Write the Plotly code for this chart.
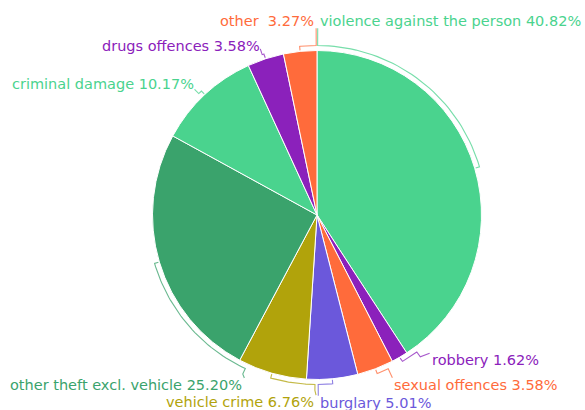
import math
import numpy as np
import plotly.graph_objects as go

# ---------------- data ----------------
categories = ["violence against the person", "robbery", "sexual offences", "burglary",
              "vehicle crime", "other theft excl. vehicle", "criminal damage",
              "drugs offences", "other"]
shares = [40.82, 1.62, 3.58, 5.01, 6.76, 25.20, 10.17, 3.58, 3.27]
label_names = ["violence against the person", "robbery", "sexual offences", "burglary",
               "vehicle crime", "other theft excl. vehicle", "criminal damage",
               "drugs offences", "other\u00a0"]

# ---------------- style / layout ----------------
colors = ["#4ad38e", "#8b21bb", "#ff6b3b", "#6b58db", "#b1a30b",
          "#3aa36c", "#4ad38e", "#8b21bb", "#ff6b3b"]
W, H = 585, 410
CX, CY, R = 317.0, 215.0, 164.5
FONT = "DejaVu Sans"
FSIZE = 14.5
# label text anchor offsets (px) from the slice mid-point on the rim, and alignment
label_offsets = [(-157, -147, "left"), (30, 3, "left"), (17, 16, "left"),
                 (-14, 24, "left"), (44, 29, "right"), (85, 123, "right"),
                 (-9, -11, "right"), (-4, -13, "right"), (16, -30, "right")]


def pt(angle_deg, rad):
    a = math.radians(angle_deg)
    return CX + rad * math.sin(a), CY - rad * math.cos(a)


total = sum(shares)
fig = go.Figure()

fig.add_trace(go.Pie(
    labels=categories, values=shares, sort=False, direction="clockwise", rotation=0,
    marker=dict(colors=colors, line=dict(color="white", width=1)),
    textinfo="none", hoverinfo="label+percent",
    domain=dict(x=[(CX - R) / W, (CX + R) / W], y=[(H - CY - R) / H, (H - CY + R) / H]),
    showlegend=False,
))

annotations = []
cum = 0.0
for i, (name, v) in enumerate(zip(label_names, shares)):
    a0 = cum / total * 360
    cum += v
    a1 = cum / total * 360
    mid = (a0 + a1) / 2
    mx, my = pt(mid, R)
    dx, dy, side = label_offsets[i]
    lx, ly = mx + dx, my + dy
    annotations.append(dict(
        x=lx, y=ly, xref="x", yref="y", text=f"{name} {v:.2f}%", showarrow=False,
        xanchor=side, yanchor="middle",
        font=dict(family=FONT, size=FSIZE, color=colors[i]),
    ))
    # leader end point on the label
    ex = lx
    ey = ly + 7 if ly < CY else ly - 7
    att = math.degrees(math.atan2(ex - CX, -(ey - CY))) % 360
    diff = ((att - mid + 180) % 360) - 180
    diff = max(min(diff, a1 - mid + 3), a0 - mid - 3)
    att = mid + diff
    xs, ys = [], []
    x, y = pt(mid, R + 1)
    xs.append(x); ys.append(y)
    for ang in np.linspace(mid, att, 40):
        x, y = pt(ang, R + 5)
        xs.append(x); ys.append(y)
    x, y = pt(att, R + 11)
    xs.append(x); ys.append(y)
    xs.append(ex); ys.append(ey)
    fig.add_trace(go.Scatter(x=xs, y=ys, mode="lines", hoverinfo="skip",
                             line=dict(color=colors[i], width=1.1), opacity=0.75,
                             showlegend=False))

fig.update_layout(
    width=W, height=H, margin=dict(l=0, r=0, t=0, b=0),
    paper_bgcolor="white", plot_bgcolor="rgba(0,0,0,0)",
    xaxis=dict(range=[0, W], visible=False, fixedrange=True),
    yaxis=dict(range=[H, 0], visible=False, fixedrange=True),
    annotations=annotations, showlegend=False,
)

fig.write_html("out.html",
               config={"displayModeBar": False},
               post_script="document.body.style.margin='0px';"
                           "document.body.style.overflow='hidden';")
